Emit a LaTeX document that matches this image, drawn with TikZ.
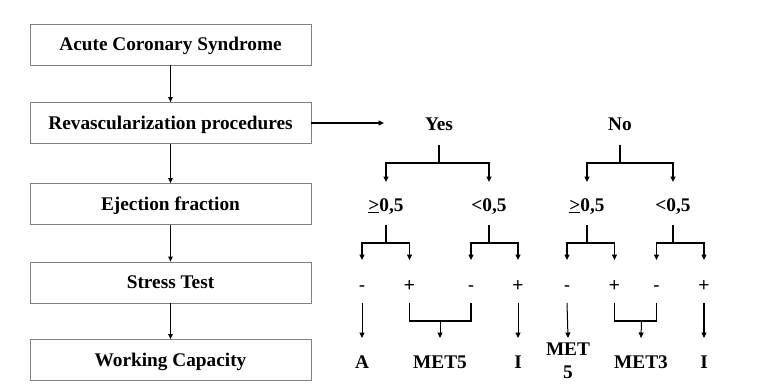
\documentclass[tikz,border=0pt]{standalone}
\usepackage{fontspec}
\setmainfont{Liberation Serif}
\setsansfont{Liberation Sans}
\usetikzlibrary{arrows.meta}
\begin{document}
\begin{tikzpicture}[x=1pt,y=-1pt,
  box/.style={draw=black!50, line width=0.8pt, minimum width=281pt, minimum height=41pt, inner sep=0,
    text height=12.5pt, text depth=0pt, font=\fontsize{19.3}{23}\selectfont\bfseries},
  arr/.style={line width=1.3pt, -{Triangle[length=5.5pt,width=5pt]}},
  thinarr/.style={line width=1pt, -{Triangle[length=5.5pt,width=5pt]}},
  barr/.style={line width=1pt, -{Triangle[length=5pt,width=4.5pt]}},
  ln/.style={line width=1.3pt},
  lab/.style={inner sep=0, outer ysep=14pt, text height=15pt, text depth=0pt,
    font=\fontsize{19.3}{23}\selectfont\bfseries, anchor=base},
  sgn/.style={inner sep=0, outer ysep=12pt, text height=19pt, text depth=0pt,
    font=\sffamily\fontsize{19}{22}\selectfont, anchor=base},
  res/.style={lab, outer ysep=15.5pt}
]
\useasboundingbox (0,0) rectangle (768,391);

% left column
\node[box] (acs) at (170.5,44.5) {Acute Coronary Syndrome};
\node[box] (rev) at (170.5,123) {Revascularization procedures};
\node[box] (ef)  at (170.5,204) {Ejection fraction};
\node[box] (st)  at (170.5,282.5) {Stress Test};
\node[box] (wc)  at (170.5,360) {Working Capacity};
\draw[barr] (acs.south) -- (rev.north);
\draw[barr] (rev.south) -- (ef.north);
\draw[barr] (ef.south) -- (st.north);
\draw[barr] (st.south) -- (wc.north);

\coordinate (revend) at (384,123);
\draw[arr] (rev.east) -- (revend);

% level 1
\node[lab] (yes) at (439,130.5) {Yes};
\node[lab] (no)  at (620,130.5) {No};

% level 2
\node[lab] (ge1) at (386,211) {\underline{>}0,5};
\node[lab] (lt1) at (489,211) {<0,5};
\node[lab] (ge2) at (587,211) {\underline{>}0,5};
\node[lab] (lt2) at (673,211) {<0,5};

\coordinate (by) at (439,163);
\coordinate (bn) at (620,163);
\draw[ln] (yes.south) -- (by);
\draw[arr] (by) -| (ge1.north);
\draw[arr] (by) -| (lt1.north);
\draw[ln] (no.south) -- (bn);
\draw[arr] (bn) -| (ge2.north);
\draw[arr] (bn) -| (lt2.north);

% level 3 signs
\node[sgn] (s1) at (362,291) {-};
\node[sgn] (s2) at (409.5,291) {+};
\node[sgn] (s3) at (471,291) {-};
\node[sgn] (s4) at (518,291) {+};
\node[sgn] (s5) at (567,291) {-};
\node[sgn] (s6) at (614.5,291) {+};
\node[sgn] (s7) at (656.5,291) {-};
\node[sgn] (s8) at (704,291) {+};

\coordinate (b1) at (386,243);
\coordinate (b2) at (489,243);
\coordinate (b3) at (587,243);
\coordinate (b4) at (673,243);
\draw[ln] (ge1.south) -- (b1);
\draw[arr] (b1) -| (s1.north);
\draw[arr] (b1) -| (s2.north);
\draw[ln] (lt1.south) -- (b2);
\draw[arr] (b2) -| (s3.north);
\draw[arr] (b2) -| (s4.north);
\draw[ln] (ge2.south) -- (b3);
\draw[arr] (b3) -| (s5.north);
\draw[arr] (b3) -| (s6.north);
\draw[ln] (lt2.south) -- (b4);
\draw[arr] (b4) -| (s7.north);
\draw[arr] (b4) -| (s8.north);

% results
\node[res] (ra)  at (362,368.5) {A};
\node[res] (rm5) at (440,368.5) {MET5};
\node[res] (ri1) at (518,368.5) {I};
\node[inner sep=0, outer ysep=5pt, anchor=north, align=center,
      font=\fontsize{19.3}{23.3}\selectfont\bfseries] (rm5b) at (568,338) {MET\\5};
\node[res] (rm3) at (641,368.5) {MET3};
\node[res] (ri2) at (704,368.5) {I};

\coordinate (j1) at (440,321);
\coordinate (j2) at (641.5,321);
\draw[thinarr] (s1.south) -- (ra.north);
\draw[ln] (s2.south) |- (j1) -| (s3.south);
\draw[thinarr] (j1) -- (rm5.north);
\draw[thinarr] (s4.south) -- (ri1.north);
\draw[thinarr] (s5.south) -- (rm5b.north);
\draw[ln] (s6.south) |- (j2) -| (s7.south);
\draw[thinarr] (j2) -- (rm3.north);
\draw[arr] (s8.south) -- (ri2.north);
\end{tikzpicture}
\end{document}
